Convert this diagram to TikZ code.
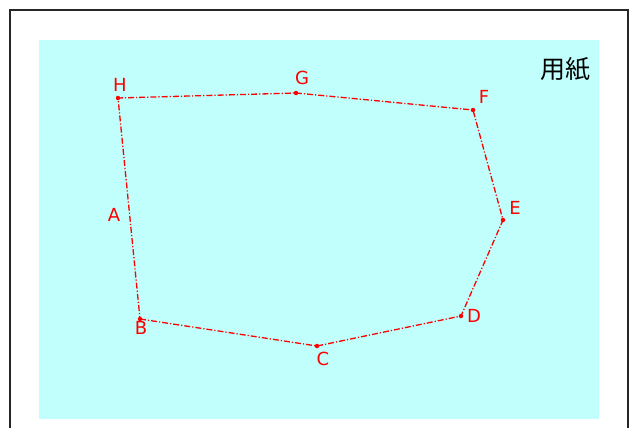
\documentclass[tikz,border=0pt]{standalone}
\usepackage{fontspec}
\setmainfont{DejaVu Sans}
\newfontfamily\cjk{Noto Sans CJK JP}
\definecolor{papercyan}{RGB}{192,255,252}
\tikzset{
  outline/.style={red, line width=1.3pt, dash pattern=on 6pt off 2pt on 1.2pt off 2pt},
  vertex/.style={circle, fill=red, inner sep=0pt, minimum size=4.5pt},
  ptlabel/.style={text=red, font=\fontsize{18}{21}\selectfont, inner sep=0pt}
}
\begin{document}
\begin{tikzpicture}[x=1pt,y=-1pt]
    \useasboundingbox (0,0) rectangle (634,428);
    \draw [line width=1.2pt, black!85] (10,440) -- (10,10) -- (628,10) -- (628,440);
    \fill [papercyan] (39,40) rectangle (599,419);
    \node [font=\cjk\fontsize{25}{29}\selectfont] (paper) at (565,69) {用紙};
    \coordinate (H) at (118,98);  \coordinate (G) at (296,93);  \coordinate (F) at (473,110);
    \coordinate (E) at (503,220); \coordinate (D) at (461,316); \coordinate (C) at (317,346);
    \coordinate (B) at (140,319);
    \draw [outline] (B) -- (C) -- (D) -- (E) -- (F) -- (G) -- (H) -- cycle;
    \foreach \p in {B,C,D,E,F,G,H} \node [vertex] at (\p) {};
    \node [ptlabel] (lH) at (120,85) {H};  \node [ptlabel] (lG) at (302,78) {G};
    \node [ptlabel] (lF) at (484,97) {F};  \node [ptlabel] (lE) at (515,208) {E};
    \node [ptlabel] (lD) at (474,316) {D}; \node [ptlabel] (lC) at (323,359) {C};
    \node [ptlabel] (lB) at (141,328) {B}; \node [ptlabel] (lA) at (114,215) {A};
\end{tikzpicture}
\end{document}
